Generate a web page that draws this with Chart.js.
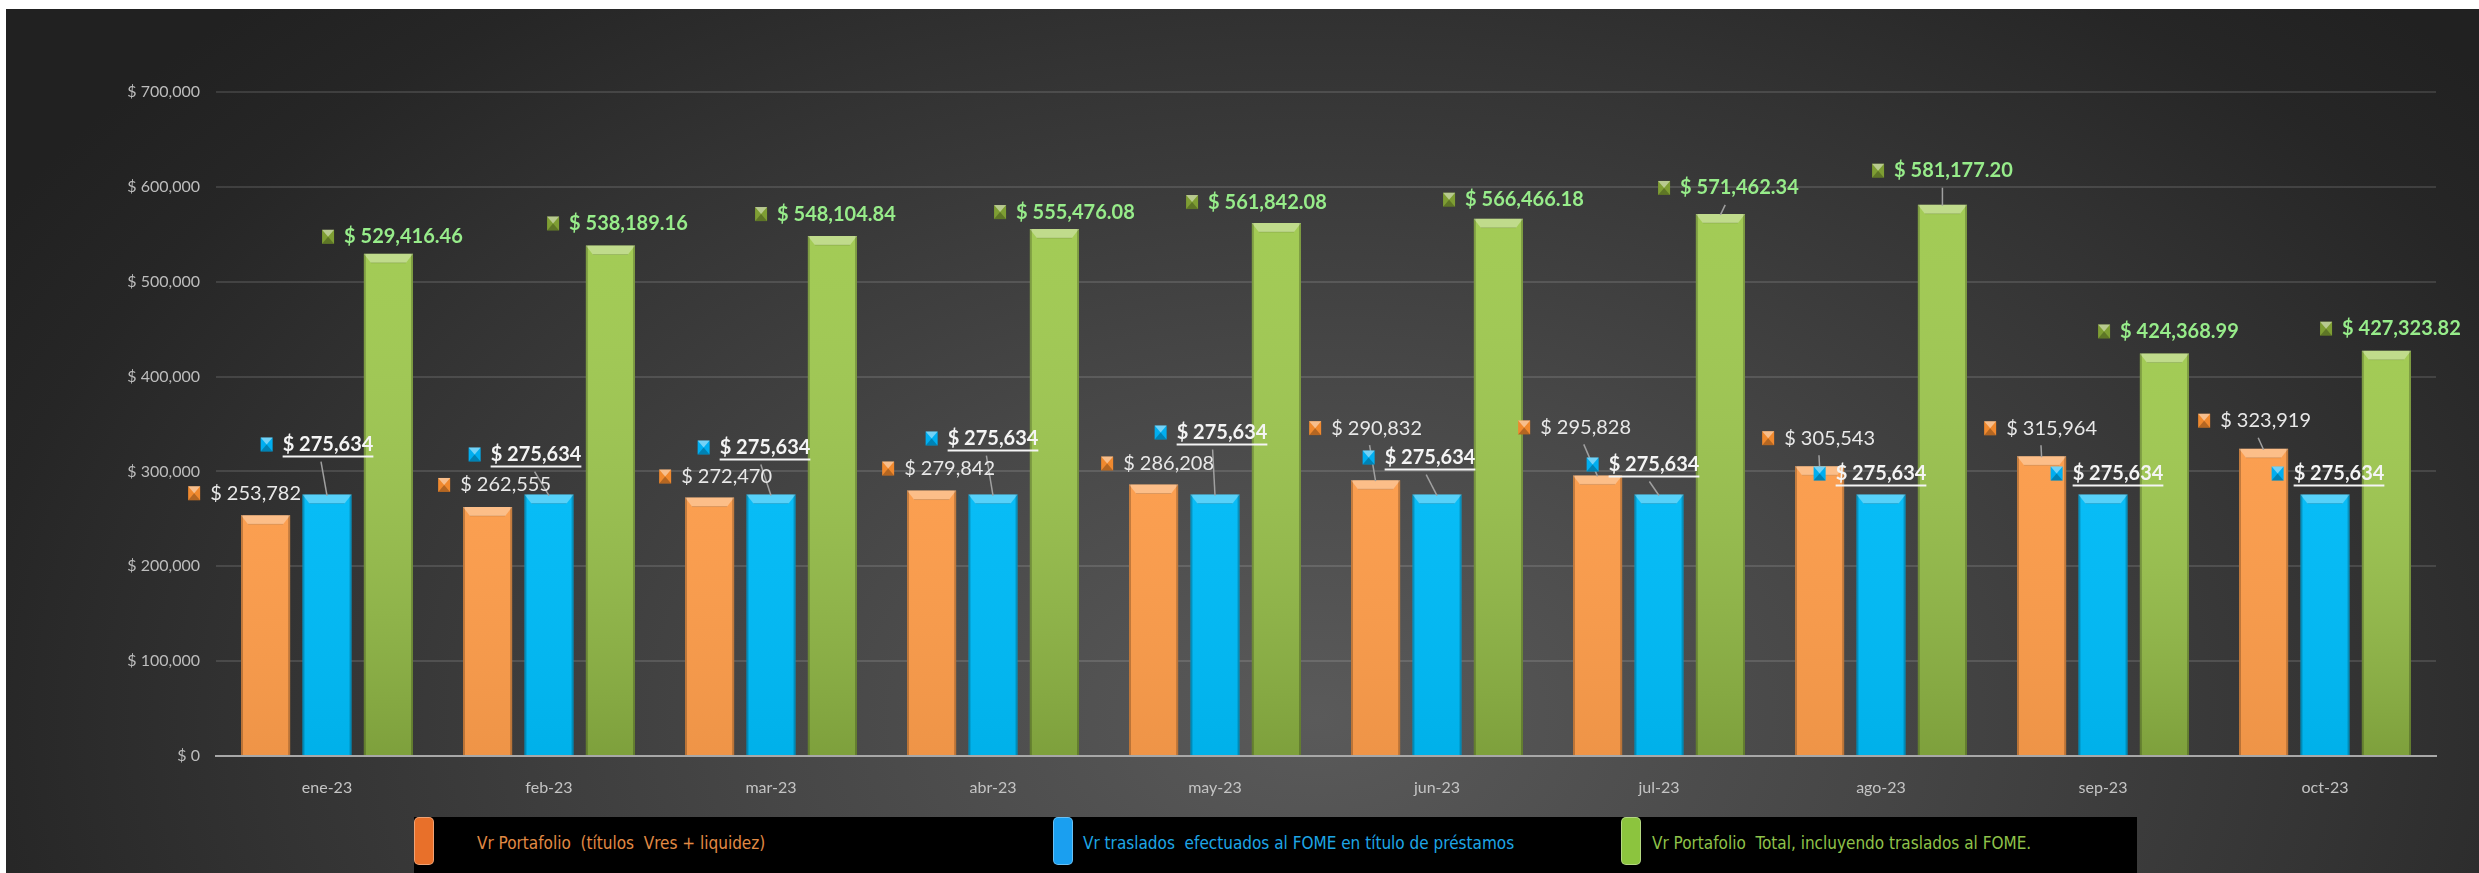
<!DOCTYPE html>
<html>
<head>
<meta charset="utf-8">
<script src="https://cdn.jsdelivr.net/npm/chart.js@4.4.0/dist/chart.umd.min.js"></script>
<style>
  html, body { margin: 0; padding: 0; background: #fff; }
  body { width: 2479px; height: 873px; overflow: hidden; position: relative; }
  #panel {
    position: absolute; left: 6px; top: 9px; width: 2473px; height: 864px;
    background: radial-gradient(ellipse 62% 115% at 53% 82%, #5a5a5a 0%, #474747 35%, #333 68%, #262626 88%, #212121 100%);
  }
  #chart { position: absolute; left: 0; top: 0; }
  #legend {
    position: absolute; left: 408px; top: 808px; width: 1723px; height: 56px; background: #000;
    font-family: "Liberation Sans Narrow", "DejaVu Sans Condensed", sans-serif; font-size: 17px;
  }
  .key { position: absolute; top: 0; width: 20px; height: 48px; border-radius: 5px; box-sizing: border-box; border: 1px solid rgba(255,255,255,0.35); }
  .txt { position: absolute; top: 0; line-height: 52px; white-space: pre; }
</style>
</head>
<body>
<div id="panel">
  <canvas id="chart" width="2473" height="864"></canvas>
  <div id="legend"></div>
</div>
<script>
// Datos
const categories = ["ene-23", "feb-23", "mar-23", "abr-23", "may-23", "jun-23", "jul-23", "ago-23", "sep-23", "oct-23"];
const portafolio = [253782, 262555, 272470, 279842, 286208, 290832, 295828, 305543, 315964, 323919];
const traslados = [275634, 275634, 275634, 275634, 275634, 275634, 275634, 275634, 275634, 275634];
const total = [529416.46, 538189.16, 548104.84, 555476.08, 561842.08, 566466.18, 571462.34, 581177.20, 424368.99, 427323.82];
const yTicks = [0, 100000, 200000, 300000, 400000, 500000, 600000, 700000];
const seriesNames = [
    "Vr Portafolio  (títulos  Vres + liquidez)",
    "Vr traslados  efectuados al FOME en título de préstamos",
    "Vr Portafolio  Total, incluyendo traslados al FOME."
];

// posicion de las etiquetas (dx, dy respecto al tope de la barra)
const orangeOffsets = [[-21, -22], [7, -22], [6, -21], [7, -22], [4, -21], [-10, -52], [-23, -48], [-1, -28], [-1, -28], [-9, -28]];
const blueOffsets = [[-10, -50], [-24, -40], [-17, -47], [-11, -56], [-4, -62], [-18, -37], [-16, -30], [-11, -21], [4, -21], [3, -21]];
const greenOffsets = [[4, -17], [7, -22], [-7, -22], [10, -17], [-20, -21], [15, -19], [8, -26], [0, -34], [4, -22], [4, -22]];

const money = v => "$ " + v.toLocaleString("en-US", { maximumFractionDigits: 0 });
const money2 = v => "$ " + v.toLocaleString("en-US", { minimumFractionDigits: 2, maximumFractionDigits: 2 });

const labelStyles = [
    { offsets: orangeOffsets, format: money, font: "400 20px Lato", color: "#e8e8e8", key: "#f0892e", underline: false },
    { offsets: blueOffsets, format: money, font: "700 20px Lato", color: "#f4f4f4", key: "#00aef0", underline: true },
    { offsets: greenOffsets, format: money2, font: "700 20px Lato", color: "#97ec8a", key: "#7e9e33", underline: false }
];

const legendKeys = ["#e8702a", "#1a9ff0", "#8cc43e"];
const legendText = ["#e28a44", "#1ea6e6", "#8fc24a"];
const legendPos = [[0, 63], [639, 669], [1207, 1238]];

// Leyenda
const legend = document.getElementById("legend");
seriesNames.forEach((name, i) => {
    const k = document.createElement("div");
    k.className = "key";
    k.style.left = legendPos[i][0] + "px";
    k.style.background = legendKeys[i];
    legend.appendChild(k);
    const t = document.createElement("div");
    t.className = "txt";
    t.style.left = legendPos[i][1] + "px";
    t.style.color = legendText[i];
    t.textContent = name;
    legend.appendChild(t);
});

// Relieve de las barras
const bevelPlugin = {
    id: "bevel",
    afterDatasetsDraw(chart) {
        const ctx = chart.ctx;
        chart.data.datasets.forEach((ds, i) => {
            chart.getDatasetMeta(i).data.forEach(bar => {
                const l = bar.x - bar.width / 2, r = bar.x + bar.width / 2, t = bar.y, b = bar.base;
                ctx.save();
                const g = ctx.createLinearGradient(0, t, 0, b);
                if (i === 2) {
                    g.addColorStop(0, "rgba(255,255,255,0.06)");
                    g.addColorStop(1, "rgba(0,0,0,0.2)");
                } else {
                    g.addColorStop(0, "rgba(255,255,255,0.03)");
                    g.addColorStop(1, "rgba(0,0,0,0.05)");
                }
                ctx.fillStyle = g;
                ctx.fillRect(l, t, r - l, b - t);
                // lados
                ctx.fillStyle = "rgba(0,0,0,0.22)";
                ctx.fillRect(l, t, 2, b - t);
                ctx.fillRect(r - 2, t, 2, b - t);
                // tope biselado
                ctx.beginPath();
                ctx.moveTo(l, t);
                ctx.lineTo(r, t);
                ctx.lineTo(r - 7, t + 9);
                ctx.lineTo(l + 7, t + 9);
                ctx.closePath();
                ctx.fillStyle = "rgba(255,255,255,0.32)";
                ctx.fill();
                ctx.beginPath();
                ctx.moveTo(l + 7, t + 9);
                ctx.lineTo(r - 7, t + 9);
                ctx.strokeStyle = "rgba(0,0,0,0.12)";
                ctx.lineWidth = 1;
                ctx.stroke();
                ctx.restore();
            });
        });
    }
};

function drawKey(ctx, x, y, w, h, color) {
    ctx.fillStyle = color;
    ctx.fillRect(x, y, w, h);
    ctx.beginPath();
    ctx.moveTo(x, y); ctx.lineTo(x + w, y); ctx.lineTo(x + w / 2, y + h / 2); ctx.closePath();
    ctx.fillStyle = "rgba(255,255,255,0.45)";
    ctx.fill();
    ctx.beginPath();
    ctx.moveTo(x, y + h); ctx.lineTo(x + w, y + h); ctx.lineTo(x + w / 2, y + h / 2); ctx.closePath();
    ctx.fillStyle = "rgba(0,0,0,0.25)";
    ctx.fill();
}

// Etiquetas de datos
const labelPlugin = {
    id: "valueLabels",
    afterDatasetsDraw(chart) {
        const ctx = chart.ctx;
        const items = [];
        chart.data.datasets.forEach((ds, i) => {
            const st = labelStyles[i];
            chart.getDatasetMeta(i).data.forEach((bar, j) => {
                const [dx, dy] = st.offsets[j];
                const txt = st.format(ds.data[j]);
                ctx.font = st.font;
                const tw = ctx.measureText(txt).width;
                const bw = 12 + 10 + tw;
                const cx = bar.x + dx, cy = bar.y + dy;
                items.push({ st, txt, tw, left: cx - bw / 2, cx, cy, bar, dy });
            });
        });
        ctx.save();
        // lineas guia
        items.forEach(it => {
            if (it.dy < -25) {
                ctx.strokeStyle = "#a0a0a0";
                ctx.lineWidth = 1.5;
                ctx.beginPath();
                ctx.moveTo(it.cx + (it.bar.x - it.cx) * 0.4, it.cy + 17);
                ctx.lineTo(it.bar.x, it.bar.y + 1);
                ctx.stroke();
            }
        });
        items.forEach(it => {
            drawKey(ctx, it.left, it.cy - 7, 12, 14, it.st.key);
            ctx.font = it.st.font;
            ctx.fillStyle = it.st.color;
            ctx.textAlign = "left";
            ctx.textBaseline = "middle";
            ctx.fillText(it.txt, it.left + 22, it.cy);
            if (it.st.underline) {
                ctx.strokeStyle = it.st.color;
                ctx.lineWidth = 2;
                ctx.beginPath();
                ctx.moveTo(it.left + 22, it.cy + 12);
                ctx.lineTo(it.left + 22 + it.tw, it.cy + 12);
                ctx.stroke();
            }
        });
        ctx.restore();
    }
};

new Chart(document.getElementById("chart"), {
    type: "bar",
    data: {
        labels: categories,
        datasets: [
            { label: seriesNames[0], data: portafolio, backgroundColor: "#fb9c4b" },
            { label: seriesNames[1], data: traslados, backgroundColor: "#00baf6" },
            { label: seriesNames[2], data: total, backgroundColor: "#9dc84b" }
        ]
    },
    options: {
        responsive: false,
        devicePixelRatio: 1,
        animation: false,
        layout: { padding: { top: 83, right: 43, left: 0, bottom: 0 } },
        datasets: { bar: { categoryPercentage: 0.83, barPercentage: 0.8 } },
        plugins: { legend: { display: false }, tooltip: { enabled: false } },
        scales: {
            x: {
                grid: { display: false },
                border: { display: true, color: "#a8a8a8", width: 2 },
                ticks: { color: "#c4c4c4", font: { family: "Lato", size: 16 }, padding: 14, maxRotation: 0 },
                afterFit: s => { s.height = 117; }
            },
            y: {
                min: 0,
                max: 700000,
                grid: { color: "rgba(255,255,255,0.12)", lineWidth: 2, drawTicks: false },
                border: { display: false },
                ticks: { color: "#bdbdbd", font: { family: "Lato", size: 16 }, padding: 16, callback: v => money(v) },
                afterBuildTicks: s => { s.ticks = yTicks.map(v => ({ value: v })); },
                afterFit: s => { s.width = 210; }
            }
        }
    },
    plugins: [bevelPlugin, labelPlugin]
});
</script>
</body>
</html>
